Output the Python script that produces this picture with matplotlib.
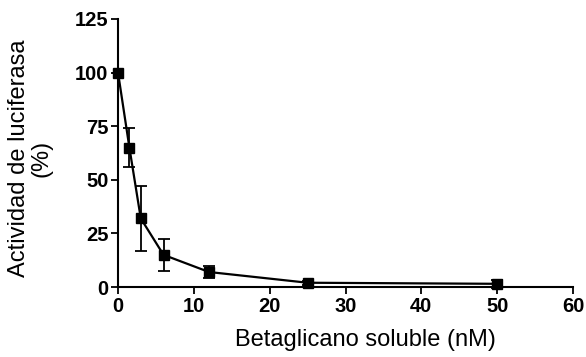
import numpy as np
import matplotlib.pyplot as plt

plt.rcParams['font.family'] = ['Liberation Sans', 'DejaVu Sans']

# data
conc = [0, 1.5, 3, 6, 12, 25, 50]
activity = [100, 65, 32, 15, 7, 2, 1.5]
err = [0, 9, 15, 7.5, 3, 1, 2]

fig = plt.figure(figsize=(5.86, 3.57), dpi=100)
ax = fig.add_axes([0.2014, 0.196, 0.7765, 0.751])

ax.errorbar(conc, activity, yerr=err, color='black', marker='s', markersize=6.5,
            linewidth=1.6, elinewidth=1.3, capsize=4, capthick=1.3, clip_on=False)

ax.set_xlim(0, 60)
ax.set_ylim(0, 125)
ax.set_xticks([0, 10, 20, 30, 40, 50, 60])
ax.set_yticks([0, 25, 50, 75, 100, 125])
for s in ['top', 'right']:
    ax.spines[s].set_visible(False)
for s in ['left', 'bottom']:
    ax.spines[s].set_linewidth(1.5)
ax.tick_params(direction='out', length=5, width=1.3, labelsize=14.5, pad=2)
for lab in ax.get_xticklabels() + ax.get_yticklabels():
    lab.set_fontweight('bold')

ax.set_xlabel('Betaglicano soluble (nM)', fontsize=17)
ax.xaxis.set_label_coords(0.543, -0.155)
ax.set_ylabel('Actividad de luciferasa\n(%)', fontsize=17, linespacing=1.0)
ax.yaxis.set_label_coords(-0.145, 0.48)

fig.savefig('out.png', dpi=100)
